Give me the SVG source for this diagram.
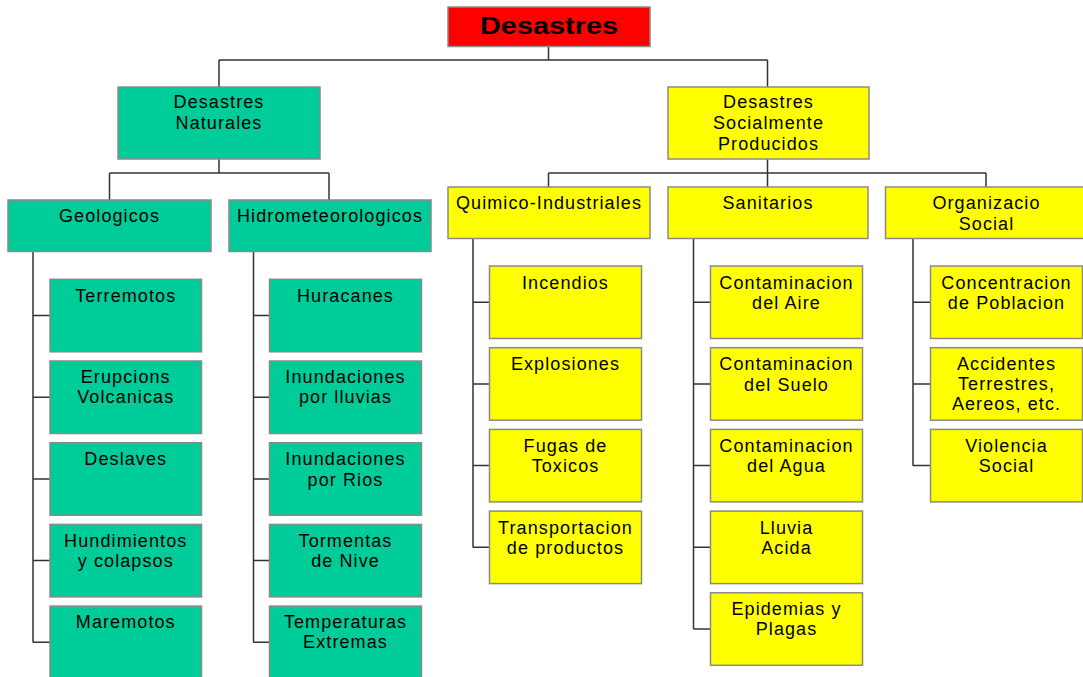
<svg xmlns="http://www.w3.org/2000/svg" width="1083" height="677" viewBox="0 0 1083 677">
<style>
  .g rect{fill:#00CC99;stroke:#8a8a8a;stroke-width:1.5}
  .y rect{fill:#FFFF00;stroke:#8a8a8a;stroke-width:1.5}
  .r rect{fill:#FF0000;stroke:#8a8a8a;stroke-width:1.5}
  text{font-family:"Liberation Sans",Arial,sans-serif;font-size:18px;letter-spacing:1.1px;fill:#000;text-anchor:middle}
  .t{font-size:23px;font-weight:bold;letter-spacing:0}
  #connectors path{fill:none;stroke:#333;stroke-width:1.5}
</style>
<rect width="1083" height="677" fill="#fff"/>
<g id="connectors">
  <path d="M548.5 46.5V60M219 60H767.5M219 60V87M767.5 60V87"/>
  <path d="M219 159V173M109.5 173H329M109.5 173V200M329 173V200"/>
  <path d="M767.5 159V187M548.5 173H986M548.5 173V187M986 173V187"/>
  <path d="M33 251.5V642.5M33 315.5H50M33 397.2H50M33 478.9H50M33 560.6H50M33 642.3H50"/>
  <path d="M253.5 251.5V642.5M253.5 315.5H269.5M253.5 397.2H269.5M253.5 478.9H269.5M253.5 560.6H269.5M253.5 642.3H269.5"/>
  <path d="M473 238.5V547.4M473 302.2H489.5M473 383.9H489.5M473 465.6H489.5M473 547.3H489.5"/>
  <path d="M693.5 238.5V629M693.5 302.2H710.5M693.5 383.9H710.5M693.5 465.6H710.5M693.5 547.3H710.5M693.5 629H710.5"/>
  <path d="M913 238.5V465.7M913 302.2H930.5M913 383.9H930.5M913 465.6H930.5"/>
</g>
<g id="root" class="r"><rect x="448" y="7" width="202" height="39.5"/><text class="t" x="549" y="34" textLength="138" lengthAdjust="spacingAndGlyphs">Desastres</text></g>
<g id="naturales" class="g"><rect x="118" y="87" width="202" height="72"/><text x="219" y="108">Desastres</text><text x="219" y="129">Naturales</text></g>
<g id="sociales" class="y"><rect x="668" y="87" width="201" height="72"/><text x="768.5" y="108">Desastres</text><text x="768.5" y="129">Socialmente</text><text x="768.5" y="150">Producidos</text></g>
<g id="geologicos" class="g"><rect x="8" y="200" width="203" height="51.5"/><text x="109.5" y="222">Geologicos</text></g>
<g id="hidro" class="g"><rect x="229" y="200" width="202" height="51.5"/><text x="330" y="222">Hidrometeorologicos</text></g>
<g id="quimico" class="y"><rect x="448" y="187" width="202" height="51.5"/><text x="549" y="208.5">Quimico-Industriales</text></g>
<g id="sanitarios" class="y"><rect x="668" y="187" width="200" height="51.5"/><text x="768" y="208.5">Sanitarios</text></g>
<g id="organizacio" class="y"><rect x="885.5" y="187" width="202" height="51.5"/><text x="986.5" y="208.5">Organizacio</text><text x="986.5" y="229.5">Social</text></g>

<g id="terremotos" class="g"><rect x="50" y="279.3" width="151.5" height="72.5"/><text x="125.75" y="301.5">Terremotos</text></g>
<g id="erupcions" class="g"><rect x="50" y="361" width="151.5" height="72.5"/><text x="125.75" y="383.2">Erupcions</text><text x="125.75" y="403.2">Volcanicas</text></g>
<g id="deslaves" class="g"><rect x="50" y="442.7" width="151.5" height="72.5"/><text x="125.75" y="464.9">Deslaves</text></g>
<g id="hundimientos" class="g"><rect x="50" y="524.4" width="151.5" height="72.5"/><text x="125.75" y="546.6">Hundimientos</text><text x="125.75" y="567.3">y colapsos</text></g>
<g id="maremotos" class="g"><rect x="50" y="606.1" width="151.5" height="72.5"/><text x="125.75" y="628.3">Maremotos</text></g>

<g id="huracanes" class="g"><rect x="269.5" y="279.3" width="152" height="72.5"/><text x="345.5" y="301.5">Huracanes</text></g>
<g id="inundlluvias" class="g"><rect x="269.5" y="361" width="152" height="72.5"/><text x="345.5" y="383.2">Inundaciones</text><text x="345.5" y="403.2">por lluvias</text></g>
<g id="inundrios" class="g"><rect x="269.5" y="442.7" width="152" height="72.5"/><text x="345.5" y="464.9">Inundaciones</text><text x="345.5" y="485.6">por Rios</text></g>
<g id="tormentas" class="g"><rect x="269.5" y="524.4" width="152" height="72.5"/><text x="345.5" y="546.6">Tormentas</text><text x="345.5" y="567.3">de Nive</text></g>
<g id="temperaturas" class="g"><rect x="269.5" y="606.1" width="152" height="72.5"/><text x="345.5" y="628.3">Temperaturas</text><text x="345.5" y="648.3">Extremas</text></g>

<g id="incendios" class="y"><rect x="489.5" y="266" width="152" height="72.5"/><text x="565.5" y="288.5">Incendios</text></g>
<g id="explosiones" class="y"><rect x="489.5" y="347.7" width="152" height="72.5"/><text x="565.5" y="370">Explosiones</text></g>
<g id="fugas" class="y"><rect x="489.5" y="429.4" width="152" height="72.5"/><text x="565.5" y="451.9">Fugas de</text><text x="565.5" y="472.4">Toxicos</text></g>
<g id="transportacion" class="y"><rect x="489.5" y="511.1" width="152" height="72.5"/><text x="565.5" y="533.6">Transportacion</text><text x="565.5" y="553.6">de productos</text></g>

<g id="aire" class="y"><rect x="710.5" y="266" width="152" height="72.5"/><text x="786.5" y="288.5">Contaminacion</text><text x="786.5" y="308.5">del Aire</text></g>
<g id="suelo" class="y"><rect x="710.5" y="347.7" width="152" height="72.5"/><text x="786.5" y="370.2">Contaminacion</text><text x="786.5" y="390.7">del Suelo</text></g>
<g id="agua" class="y"><rect x="710.5" y="429.4" width="152" height="72.5"/><text x="786.5" y="451.9">Contaminacion</text><text x="786.5" y="472.4">del Agua</text></g>
<g id="lluvia" class="y"><rect x="710.5" y="511.1" width="152" height="72.5"/><text x="786.5" y="533.6">Lluvia</text><text x="786.5" y="553.6">Acida</text></g>
<g id="epidemias" class="y"><rect x="710.5" y="592.8" width="152" height="72.5"/><text x="786.5" y="615.3">Epidemias y</text><text x="786.5" y="635.3">Plagas</text></g>

<g id="concentracion" class="y"><rect x="930.5" y="266" width="152" height="72.5"/><text x="1006.5" y="288.5">Concentracion</text><text x="1006.5" y="308.5">de Poblacion</text></g>
<g id="accidentes" class="y"><rect x="930.5" y="347.7" width="152" height="72.5"/><text x="1006.5" y="369.5">Accidentes</text><text x="1006.5" y="390">Terrestres,</text><text x="1006.5" y="410">Aereos, etc.</text></g>
<g id="violencia" class="y"><rect x="930.5" y="429.4" width="152" height="72.5"/><text x="1006.5" y="451.9">Violencia</text><text x="1006.5" y="472.4">Social</text></g>
</svg>
